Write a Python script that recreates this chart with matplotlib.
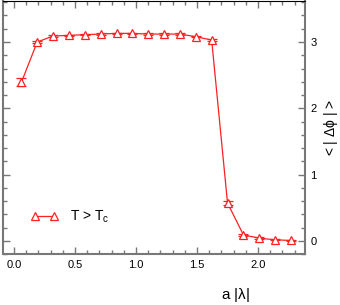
import matplotlib
matplotlib.use("Agg")
import matplotlib.pyplot as plt
from matplotlib.ticker import MultipleLocator
from matplotlib.lines import Line2D

plt.rcParams['font.family'] = ['Liberation Sans', 'DejaVu Sans']

# data
a_lambda = [0.06, 0.19, 0.32, 0.45, 0.58, 0.71, 0.84, 0.97, 1.10,
            1.23, 1.36, 1.49, 1.62, 1.75, 1.88, 2.01, 2.14, 2.27]
dphi = [2.39, 3.00, 3.09, 3.10, 3.11, 3.12, 3.13, 3.13, 3.12,
        3.12, 3.12, 3.08, 3.03, 0.57, 0.09, 0.04, 0.015, 0.005]
dphi_err = [0.06, 0.02, 0.01, 0.01, 0.01, 0.01, 0.01, 0.01, 0.01,
            0.01, 0.01, 0.01, 0.01, 0.03, 0.02, 0.01, 0.01, 0.01]

red = '#ff2020'
gray = '#777777'

fig = plt.figure(figsize=(3.4, 3.05), dpi=100)
ax = fig.add_axes([0.009, 0.167, 0.888, 0.83])

ax.errorbar(a_lambda, dphi, yerr=dphi_err, color=red, lw=0.9,
            marker='^', ms=6, mfc='white', mec=red, mew=0.9,
            capsize=3.5, elinewidth=0.9)

ax.set_xlim(-0.09, 2.385)
ax.set_ylim(-0.2, 3.62)
ax.xaxis.set_major_locator(MultipleLocator(0.5))
ax.xaxis.set_minor_locator(MultipleLocator(0.1))
ax.yaxis.set_major_locator(MultipleLocator(1))
ax.yaxis.set_minor_locator(MultipleLocator(0.2))
ax.xaxis.set_major_formatter(plt.FormatStrFormatter('%.1f'))

ax.tick_params(which='both', direction='in', top=True, right=True,
               left=True, labelleft=False, labelright=True,
               labelsize=8, color=gray, pad=4)
ax.tick_params(which='major', length=5, width=1)
ax.tick_params(which='minor', length=3, width=1)

for s in ['left', 'right', 'bottom']:
    ax.spines[s].set_color(gray)
    ax.spines[s].set_linewidth(1.5)
ax.spines['top'].set_color('black')
ax.spines['top'].set_linewidth(0.8)

ax.set_xlabel(r'a |$\mathregular{\lambda}$|', fontsize=11)
ax.xaxis.set_label_coords(0.77, -0.125)
ax.yaxis.set_label_position('right')
ax.set_ylabel(r'< | $\mathregular{\Delta\phi}$ | >', fontsize=10, labelpad=4)

handle = Line2D([], [], color=red, lw=0.9, marker='^', ms=6,
                mfc='white', mec=red, mew=0.9)
ax.legend([handle], [r'T > T$_\mathregular{c}$'], loc='lower left',
          bbox_to_anchor=(0.05, 0.065), frameon=False,
          numpoints=2, fontsize=10, handlelength=2.0)

fig.savefig('out.png', dpi=100)
